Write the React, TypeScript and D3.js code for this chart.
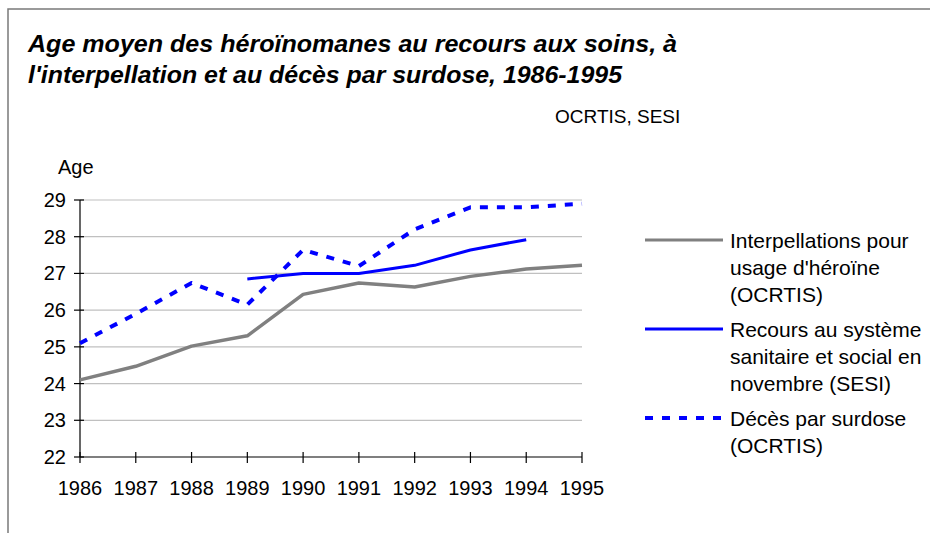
import * as d3 from "d3";
import { useEffect, useRef } from "react";

const years = [1986, 1987, 1988, 1989, 1990, 1991, 1992, 1993, 1994, 1995];
const interpellations = [24.1, 24.47, 25.02, 25.3, 26.43, 26.74, 26.63, 26.92, 27.12, 27.22];
const recours = [null, null, null, 26.85, 27.0, 27.0, 27.22, 27.64, 27.92, null];
const deces = [25.1, 25.9, 26.74, 26.15, 27.64, 27.2, 28.2, 28.8, 28.8, 28.9];
const yTicks = [22, 23, 24, 25, 26, 27, 28, 29];

const legendItems = [
  { lines: ["Interpellations pour", "usage d'héroïne", "(OCRTIS)"], color: "#808080", dash: null },
  { lines: ["Recours au système", "sanitaire et social en", "novembre (SESI)"], color: "#0000ff", dash: null },
  { lines: ["Décès par surdose", "(OCRTIS)"], color: "#0000ff", dash: "8,9" },
];

const width = 930;
const height = 533;
const font = "'Liberation Sans', Arial, sans-serif";

function App() {
  const ref = useRef<SVGSVGElement>(null);

  useEffect(() => {
    const svg = d3.select(ref.current);
    svg.selectAll("*").remove();

    // frame
    svg.append("path")
      .attr("d", "M8,540 L8,9 L932,9")
      .attr("fill", "none")
      .attr("stroke", "#7a7a7a")
      .attr("stroke-width", 1.5);

    svg.append("text")
      .attr("x", 28).attr("y", 52)
      .attr("font-family", font).attr("font-size", 24)
      .attr("font-weight", "bold").attr("font-style", "italic")
      .attr("textLength", 649).attr("lengthAdjust", "spacingAndGlyphs")
      .text("Age moyen des héroïnomanes au recours aux soins, à");
    svg.append("text")
      .attr("x", 28).attr("y", 83)
      .attr("font-family", font).attr("font-size", 24)
      .attr("font-weight", "bold").attr("font-style", "italic")
      .attr("textLength", 594).attr("lengthAdjust", "spacingAndGlyphs")
      .text("l'interpellation et au décès par surdose, 1986-1995");
    svg.append("text")
      .attr("x", 555).attr("y", 123)
      .attr("font-family", font).attr("font-size", 19)
      .text("OCRTIS, SESI");
    svg.append("text")
      .attr("x", 58).attr("y", 174)
      .attr("font-family", font).attr("font-size", 20)
      .text("Age");

    const x = d3.scaleLinear().domain([1986, 1995]).range([80, 582]);
    const y = d3.scaleLinear().domain([22, 29]).range([457, 200]);

    // gridlines
    svg.append("g")
      .selectAll("line")
      .data(yTicks.slice(1))
      .join("line")
      .attr("x1", x(1986)).attr("x2", x(1995))
      .attr("y1", (d) => y(d)).attr("y2", (d) => y(d))
      .attr("stroke", "#c0c0c0").attr("stroke-width", 1.2);

    // y axis
    svg.append("line")
      .attr("x1", x(1986)).attr("x2", x(1986))
      .attr("y1", y(29)).attr("y2", y(22))
      .attr("stroke", "#000").attr("stroke-width", 1.2);
    svg.append("g")
      .selectAll("line")
      .data(yTicks)
      .join("line")
      .attr("x1", x(1986) - 6).attr("x2", x(1986) + 4)
      .attr("y1", (d) => y(d)).attr("y2", (d) => y(d))
      .attr("stroke", "#000").attr("stroke-width", 1.2);
    svg.append("g")
      .selectAll("text")
      .data(yTicks)
      .join("text")
      .attr("x", 66).attr("y", (d) => y(d) + 7)
      .attr("text-anchor", "end")
      .attr("font-family", font).attr("font-size", 20)
      .text((d) => d);

    // x axis
    svg.append("line")
      .attr("x1", x(1986)).attr("x2", x(1995))
      .attr("y1", y(22)).attr("y2", y(22))
      .attr("stroke", "#000").attr("stroke-width", 1.2);
    svg.append("g")
      .selectAll("line")
      .data(years)
      .join("line")
      .attr("x1", (d) => x(d)).attr("x2", (d) => x(d))
      .attr("y1", y(22) - 5).attr("y2", y(22) + 6)
      .attr("stroke", "#000").attr("stroke-width", 1.2);
    svg.append("g")
      .selectAll("text")
      .data(years)
      .join("text")
      .attr("x", (d) => x(d)).attr("y", 495)
      .attr("text-anchor", "middle")
      .attr("font-family", font).attr("font-size", 20)
      .text((d) => d);

    const line = d3.line<[number, number | null]>()
      .defined((d) => d[1] != null)
      .x((d) => x(d[0]))
      .y((d) => y(d[1] as number));

    const series = [
      { values: interpellations, color: "#808080", dash: null, w: 3.5 },
      { values: recours, color: "#0000ff", dash: null, w: 3 },
      { values: deces, color: "#0000ff", dash: "8,9", w: 4 },
    ];
    series.forEach((s) => {
      svg.append("path")
        .datum(years.map((yr, i) => [yr, s.values[i]] as [number, number | null]))
        .attr("d", line)
        .attr("fill", "none")
        .attr("stroke", s.color)
        .attr("stroke-width", s.w)
        .attr("stroke-dasharray", s.dash)
        .attr("stroke-linejoin", "round");
    });

    // legend
    const legendY = [240, 329, 418];
    legendItems.forEach((item, i) => {
      const g = svg.append("g").attr("transform", `translate(0,${legendY[i]})`);
      g.append("line")
        .attr("x1", 645).attr("x2", 723)
        .attr("stroke", item.color)
        .attr("stroke-width", item.dash ? 4 : 3)
        .attr("stroke-dasharray", item.dash);
      item.lines.forEach((t, j) => {
        g.append("text")
          .attr("x", 730).attr("y", 8 + j * 27)
          .attr("font-family", font).attr("font-size", 21)
          .text(t);
      });
    });
  }, []);

  return (
    <svg
      ref={ref}
      width={width}
      height={height}
      style={{ position: "absolute", left: 0, top: 0, background: "#fff" }}
    />
  );
}

export default App;
